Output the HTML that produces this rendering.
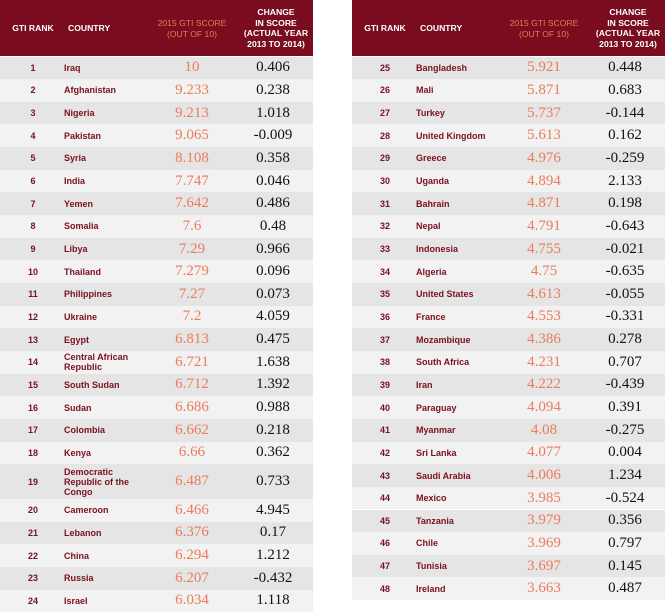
<!DOCTYPE html>
<html><head><meta charset="utf-8"><style>
body{margin:0;width:667px;height:609px;background:#fff;position:relative;overflow:hidden;font-family:"Liberation Sans",sans-serif}
.tbl{position:absolute;top:0;width:313px}
.hdr{position:absolute;left:0;top:0;width:313px;height:56px;background:#790c1f}
.h{position:absolute;color:#fff;font-weight:bold;font-size:8.6px;line-height:10.5px;text-align:center;white-space:nowrap}
.h.o{color:#ee7a55;font-weight:normal}
.row{position:absolute;left:0;width:313px}
.c{position:absolute;top:0;height:100%;display:flex;align-items:center}
.rk{width:66px;justify-content:center;color:#7b1020;font-weight:bold;font-size:9px}
.ct{left:64px;width:80px;color:#7b1020;font-weight:bold;font-size:9px;line-height:10px}
.sc{left:145px;width:94px;justify-content:center;color:#ec7b5a;font-family:"Liberation Serif",serif;font-size:15px}
.ch{left:226px;width:94px;justify-content:center;color:#111;font-family:"Liberation Serif",serif;font-size:15px}
</style></head><body>
<div class="tbl" id="left" style="left:0"></div>
<div class="tbl" id="right" style="left:352px"></div>
<script>
const ranks=[1,2,3,4,5,6,7,8,9,10,11,12,13,14,15,16,17,18,19,20,21,22,23,24,25,26,27,28,29,30,31,32,33,34,35,36,37,38,39,40,41,42,43,44,45,46,47,48];
const countries=["Iraq","Afghanistan","Nigeria","Pakistan","Syria","India","Yemen","Somalia","Libya","Thailand","Philippines","Ukraine","Egypt","Central African Republic","South Sudan","Sudan","Colombia","Kenya","Democratic Republic of the Congo","Cameroon","Lebanon","China","Russia","Israel","Bangladesh","Mali","Turkey","United Kingdom","Greece","Uganda","Bahrain","Nepal","Indonesia","Algeria","United States","France","Mozambique","South Africa","Iran","Paraguay","Myanmar","Sri Lanka","Saudi Arabia","Mexico","Tanzania","Chile","Tunisia","Ireland"];
const scores=["10","9.233","9.213","9.065","8.108","7.747","7.642","7.6","7.29","7.279","7.27","7.2","6.813","6.721","6.712","6.686","6.662","6.66","6.487","6.466","6.376","6.294","6.207","6.034","5.921","5.871","5.737","5.613","4.976","4.894","4.871","4.791","4.755","4.75","4.613","4.553","4.386","4.231","4.222","4.094","4.08","4.077","4.006","3.985","3.979","3.969","3.697","3.663"];
const changes=["0.406","0.238","1.018","-0.009","0.358","0.046","0.486","0.48","0.966","0.096","0.073","4.059","0.475","1.638","1.392","0.988","0.218","0.362","0.733","4.945","0.17","1.212","-0.432","1.118","0.448","0.683","-0.144","0.162","-0.259","2.133","0.198","-0.643","-0.021","-0.635","-0.055","-0.331","0.278","0.707","-0.439","0.391","-0.275","0.004","1.234","-0.524","0.356","0.797","0.145","0.487"];
function build(id,start){
  const t=document.getElementById(id);
  const h=document.createElement('div');h.className='hdr';
  
  
  h.innerHTML='<div class="h" style="left:4px;width:58px;top:23px">GTI RANK</div>'+
  '<div class="h" style="left:68px;top:23px;text-align:left">COUNTRY</div>'+
  '<div class="h o" style="left:145px;width:94px;top:18px">2015 GTI SCORE<br>(OUT OF 10)</div>'+
  '<div class="h" style="left:229px;width:94px;top:7px">CHANGE<br>IN SCORE<br>(ACTUAL YEAR<br>2013 TO 2014)</div>';
  t.appendChild(h);
  let y=56.5;
  for(let i=start;i<start+24;i++){
    const hh=(i===18)?34.8:22.65;
    const r=document.createElement('div');r.className='row';
    
    
    r.style.top=y+'px';r.style.height=hh+'px';
    r.style.background=((i-start)%2===0)?'#e5e5e5':'#f2f2f2';
    r.innerHTML='<div class="c rk">'+ranks[i]+'</div><div class="c ct">'+countries[i]+'</div><div class="c sc">'+scores[i]+'</div><div class="c ch">'+changes[i]+'</div>';
    t.appendChild(r);y+=hh;
  }
}
build('left',0);build('right',24);
</script>
</body></html>
